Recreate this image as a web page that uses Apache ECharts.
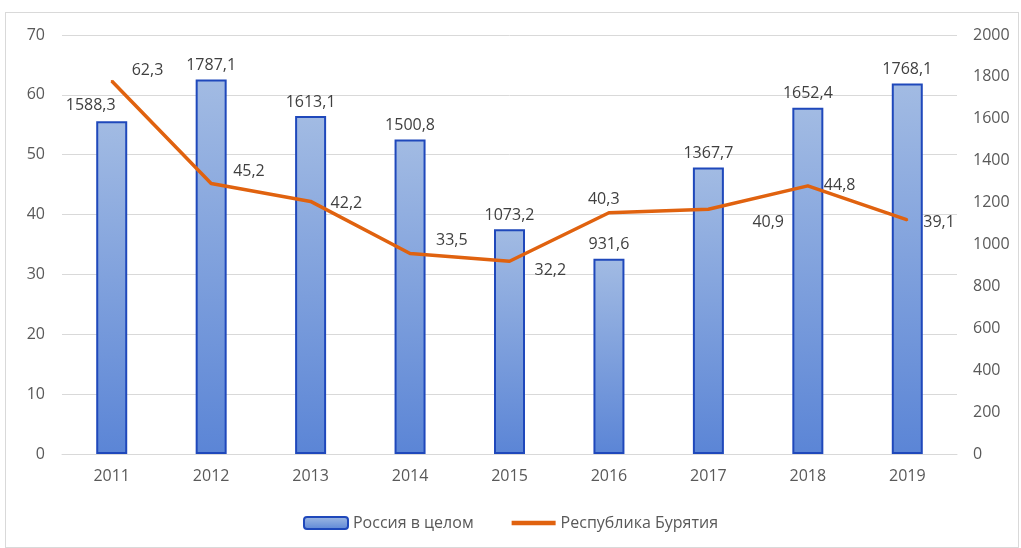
<!DOCTYPE html>
<html><head><meta charset="utf-8">
<script src="https://cdn.jsdelivr.net/npm/echarts@6/dist/echarts.min.js"></script>
<style>html,body{margin:0;padding:0;background:#fff}#frame{position:absolute;left:5px;top:12px;width:1014px;height:536px;border:1px solid #d9d9d9;box-sizing:border-box}#c{width:1021px;height:548px}</style>
</head><body><div id="frame"></div><div id="c"></div>
<script>
const years = ['2011','2012','2013','2014','2015','2016','2017','2018','2019'];
const russia = [1588.3, 1787.1, 1613.1, 1500.8, 1073.2, 931.6, 1367.7, 1652.4, 1768.1];
const buryatia = [62.3, 45.2, 42.2, 33.5, 32.2, 40.3, 40.9, 44.8, 39.1];
const leftTicks = [0, 10, 20, 30, 40, 50, 60, 70];
const rightTicks = [0, 200, 400, 600, 800, 1000, 1200, 1400, 1600, 1800, 2000];
// label offsets (style only)
const lblOff = [[5,-11],[7,-12],[5,2],[11,-13],[10,9],[-36,-13],[29,13],[1,0],[1,2]];
const barLblOff = [[-21,-2],[0,0],[0,0],[0,0],[0,0],[0,0],[0,0],[0,0],[0,0]];
const fmt = v => String(v).replace('.', ',');
const font = '"Open Sans", "Noto Sans", sans-serif';
const chart = echarts.init(document.getElementById('c'));
chart.setOption({
  animation: false,
  textStyle: {fontFamily: font},
  grid: {left: 62, right: 64, top: 35, bottom: 94},
  legend: {
    bottom: 12, left: 'center', itemGap: 38, itemWidth: 44, itemHeight: 12,
    textStyle: {fontSize: 16, color: '#595959', fontFamily: font},
    data: [
      {name: 'Россия в целом'},
      {name: 'Республика Бурятия', icon: 'path://M0,0 L40,0 L40,4 L0,4 Z'}
    ]
  },
  xAxis: {
    type: 'category', data: years,
    axisLine: {lineStyle: {color: '#d9d9d9', width: 1}},
    axisTick: {show: false},
    axisLabel: {color: '#595959', fontSize: 16, margin: 14}
  },
  yAxis: [
    {type: 'value', min: 0, max: 70, interval: 10, position: 'left',
     axisLine: {show: false}, axisTick: {show: false},
     axisLabel: {color: '#595959', fontSize: 16, margin: 17, formatter: v => String(v)},
     splitLine: {lineStyle: {color: '#d9d9d9', width: 1}}},
    {type: 'value', min: 0, max: 2000, interval: 200, position: 'right',
     axisLine: {show: false}, axisTick: {show: false},
     axisLabel: {color: '#595959', fontSize: 16, margin: 16, align: 'left', formatter: v => String(v)},
     splitLine: {show: false}}
  ],
  series: [
    {
      name: 'Россия в целом', type: 'bar', yAxisIndex: 1, barWidth: 31,
      data: russia.map((v, i) => ({value: v, label: {offset: barLblOff[i]}})),
      itemStyle: {
        color: new echarts.graphic.LinearGradient(0, 0, 0, 1, [
          {offset: 0, color: '#a2bbe3'}, {offset: 1, color: '#5b85d6'}
        ]),
        borderColor: '#1f48bb', borderWidth: 2
      },
      label: {show: true, position: 'top', distance: 6, color: '#404040', fontSize: 16,
              formatter: p => fmt(p.value)},
      z: 2
    },
    {
      name: 'Республика Бурятия', type: 'line', yAxisIndex: 0,
      data: buryatia.map((v, i) => ({value: v, label: {offset: lblOff[i]}})),
      symbol: 'circle', symbolSize: 2, showSymbol: true,
      lineStyle: {color: '#e0620f', width: 3.5},
      itemStyle: {color: '#e0620f'},
      label: {show: true, position: 'right', distance: 14, color: '#404040', fontSize: 16,
              formatter: p => fmt(p.value)},
      z: 3
    }
  ]
});
</script></body></html>
